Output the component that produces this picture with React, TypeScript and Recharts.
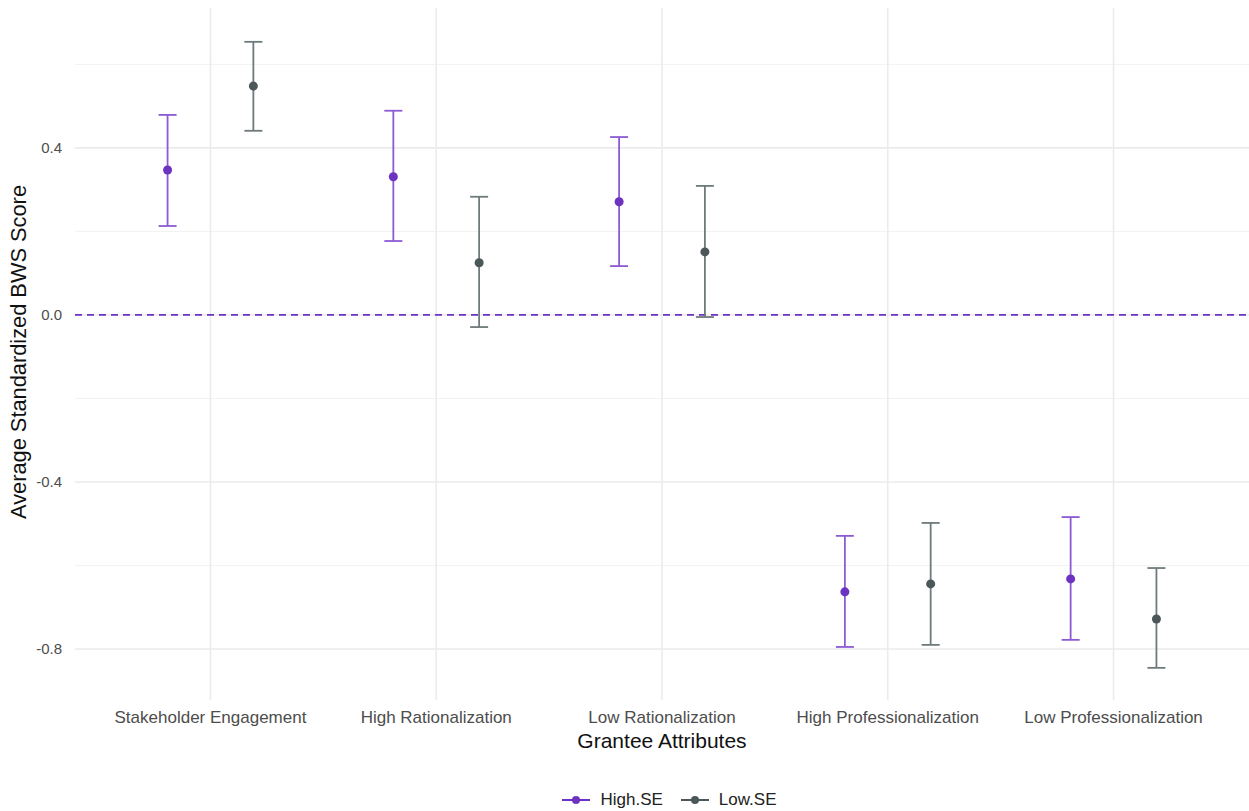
import React from 'react';
import {
  ScatterChart,
  Scatter,
  ErrorBar,
  XAxis,
  YAxis,
  ZAxis,
  ReferenceLine,
  Legend,
} from 'recharts';

const categories = [
  'Stakeholder Engagement',
  'High Rationalization',
  'Low Rationalization',
  'High Professionalization',
  'Low Professionalization',
];

// High.SE group
const highMean = [0.347, 0.331, 0.271, -0.663, -0.632];
const highLower = [0.213, 0.177, 0.117, -0.795, -0.778];
const highUpper = [0.479, 0.489, 0.426, -0.529, -0.484];

// Low.SE group
const lowMean = [0.548, 0.125, 0.151, -0.644, -0.728];
const lowLower = [0.441, -0.029, -0.005, -0.79, -0.845];
const lowUpper = [0.654, 0.283, 0.309, -0.498, -0.606];

const yTicks = [-0.8, -0.4, 0, 0.4];
const yMinor = [-0.6, -0.2, 0.2, 0.6];
const xTicks = [1, 2, 3, 4, 5];

const DODGE = 0.19;
const PURPLE = '#6C33C0';
const PURPLE_BAR = '#8C5BD4';
const GRAY = '#4C5759';
const GRAY_BAR = '#6F7A7C';
const FONT = '"Liberation Sans", Arial, sans-serif';

const buildSeries = (mean: number[], lower: number[], upper: number[], shift: number) =>
  mean.map((m, i) => ({
    x: i + 1 + shift,
    y: m,
    err: [m - lower[i], upper[i] - m],
  }));

const highData = buildSeries(highMean, highLower, highUpper, -DODGE);
const lowData = buildSeries(lowMean, lowLower, lowUpper, DODGE);

const legendItems = [
  { name: 'High.SE', color: PURPLE },
  { name: 'Low.SE', color: GRAY },
];

// legend is centred on the panel, not on the whole figure
const LegendContent = () => (
  <div
    style={{
      height: 51,
      display: 'flex',
      justifyContent: 'center',
      alignItems: 'flex-end',
      paddingLeft: 106,
      paddingBottom: 1,
      boxSizing: 'border-box',
      fontFamily: FONT,
      fontSize: 17,
      color: '#222',
    }}
  >
    {legendItems.map(item => (
      <div key={item.name} style={{ display: 'flex', alignItems: 'center', marginRight: 17 }}>
        <svg width={30} height={14} style={{ marginRight: 9 }}>
          <line x1={1} y1={7} x2={29} y2={7} stroke={item.color} strokeWidth={2} />
          <circle cx={15} cy={7} r={4} fill={item.color} />
        </svg>
        <span>{item.name}</span>
      </div>
    ))}
  </div>
);

const YLabel = () => (
  <text
    x={18}
    y={352}
    transform="rotate(-90, 18, 352)"
    textAnchor="middle"
    dominantBaseline="central"
    fontFamily={FONT}
    fontSize={21.8}
    fill="#111"
  >
    Average Standardized BWS Score
  </text>
);

export default function App() {
  return (
    <div style={{ position: 'absolute', left: 0, top: 0, background: '#fff' }}>
      <ScatterChart
        width={1249}
        height={811}
        margin={{ top: 8, right: 0, bottom: 0, left: 0 }}
      >
        {yMinor.map(v => (
          <ReferenceLine key={`mn${v}`} y={v} stroke="#F2F2F2" strokeWidth={1} />
        ))}
        {yTicks.map(v => (
          <ReferenceLine key={`mj${v}`} y={v} stroke="#EBEBEB" strokeWidth={1.6} />
        ))}
        {xTicks.map(v => (
          <ReferenceLine key={`vx${v}`} x={v} stroke="#EBEBEB" strokeWidth={1.6} />
        ))}
        <XAxis
          type="number"
          dataKey="x"
          domain={[0.4, 5.6]}
          ticks={xTicks}
          interval={0}
          tickFormatter={(v: number) => categories[Math.round(v) - 1] ?? ''}
          axisLine={false}
          tickLine={false}
          tickMargin={5}
          height={60}
          tick={{ fill: '#4D4D4D', fontSize: 17, fontFamily: FONT }}
          label={{
            value: 'Grantee Attributes',
            position: 'insideBottom',
            offset: 12,
            style: { fill: '#111', fontSize: 21, fontFamily: FONT },
          }}
        />
        <YAxis
          type="number"
          dataKey="y"
          domain={[-0.922, 0.735]}
          ticks={yTicks}
          allowDataOverflow
          tickFormatter={(v: number) => v.toFixed(1)}
          axisLine={false}
          tickLine={false}
          tickMargin={7}
          width={75}
          tick={{ fill: '#4D4D4D', fontSize: 15, fontFamily: FONT }}
          label={<YLabel />}
        />
        <ZAxis range={[55, 55]} />
        <ReferenceLine y={0} stroke={PURPLE} strokeWidth={1.8} strokeDasharray="7 5" />
        <Legend verticalAlign="bottom" content={<LegendContent />} />
        <Scatter name="High.SE" data={highData} fill={PURPLE} isAnimationActive={false}>
          <ErrorBar dataKey="err" direction="y" width={9} stroke={PURPLE_BAR} strokeWidth={1.8} isAnimationActive={false} />
        </Scatter>
        <Scatter name="Low.SE" data={lowData} fill={GRAY} isAnimationActive={false}>
          <ErrorBar dataKey="err" direction="y" width={9} stroke={GRAY_BAR} strokeWidth={1.8} isAnimationActive={false} />
        </Scatter>
      </ScatterChart>
    </div>
  );
}
